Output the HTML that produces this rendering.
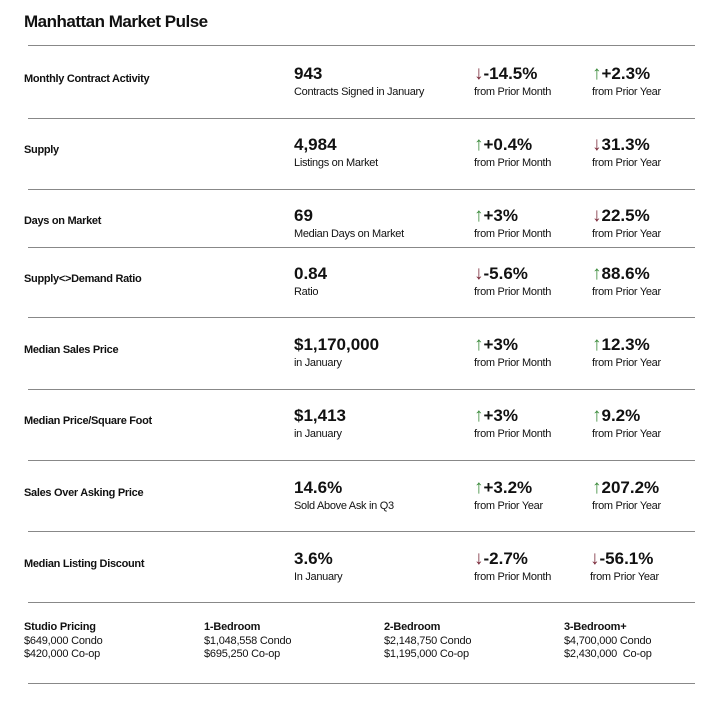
<!DOCTYPE html>
<html><head><meta charset="utf-8"><style>
body{margin:0;width:719px;height:714px;background:#fff;font-family:"Liberation Sans",sans-serif;color:#111;position:relative;overflow:hidden}
.a{position:absolute;white-space:nowrap}
.t{left:24px;top:12px;font-size:17px;font-weight:bold;letter-spacing:-0.5px}
.ln{position:absolute;left:28px;width:667px;height:1px;background:#888}
.lb{font-size:11px;font-weight:bold;letter-spacing:-0.3px}
.v{font-size:17px;font-weight:bold;line-height:20px}
.s{font-size:11px;letter-spacing:-0.3px}
.up{color:#3a8a3a;font-weight:normal;font-size:19px}
.dn{color:#7a2a3a;font-weight:normal;font-size:19px}
.b{font-size:11px;line-height:13.5px;letter-spacing:-0.2px}
</style></head><body>
<div class="a t">Manhattan Market Pulse</div>
<div id="rows"></div>
<div class="ln" style="top:602px"></div>
<div class="ln" style="top:683px"></div>
<div class="a b" style="left:24px;top:621px"><b>Studio Pricing</b><br>$649,000 Condo<br>$420,000 Co-op</div>
<div class="a b" style="left:204px;top:621px"><b>1-Bedroom</b><br>$1,048,558 Condo<br>$695,250 Co-op</div>
<div class="a b" style="left:384px;top:621px"><b>2-Bedroom</b><br>$2,148,750 Condo<br>$1,195,000 Co-op</div>
<div class="a b" style="left:564px;top:621px"><b>3-Bedroom+</b><br>$4,700,000 Condo<br>$2,430,000&nbsp; Co-op</div>
<script>
const labels=["Monthly Contract Activity","Supply","Days on Market","Supply<>Demand Ratio","Median Sales Price","Median Price/Square Foot","Sales Over Asking Price","Median Listing Discount"];
const values=["943","4,984","69","0.84","$1,170,000","$1,413","14.6%","3.6%"];
const subs=["Contracts Signed in January","Listings on Market","Median Days on Market","Ratio","in January","in January","Sold Above Ask in Q3","In January"];
const ch1=["-14.5%","+0.4%","+3%","-5.6%","+3%","+3%","+3.2%","-2.7%"];
const dir1=["d","u","u","d","u","u","u","d"];
const sub1=["from Prior Month","from Prior Month","from Prior Month","from Prior Month","from Prior Month","from Prior Month","from Prior Year","from Prior Month"];
const ch2=["+2.3%","31.3%","22.5%","88.6%","12.3%","9.2%","207.2%","-56.1%"];
const dir2=["u","d","d","u","u","u","u","d"];
const lines=[45,118,189,247,317,389,460,531];
const mids=[78,149,220,278,349,420,492,563];
const R=document.getElementById('rows');
function add(cls,x,y,html,name){const d=document.createElement('div');d.className='a '+cls;d.style.left=x+'px';d.style.top=y+'px';d.innerHTML=html;


R.appendChild(d);}
const arr=k=>k=='u'?'<span class="up">↑</span>':'<span class="dn">↓</span>';
labels.forEach((l,i)=>{
 const ln=document.createElement('div');ln.className='ln';ln.style.top=lines[i]+'px';
 
 
 R.appendChild(ln);
 const m=mids[i];
 add('lb',24,m-5,l.replace('<','&lt;').replace('>','&gt;'),'row-label');
 add('v',294,m-14,values[i],'metric-value');
 add('s',294,m+8,subs[i],'metric-subtitle');
 add('v',474,m-14,arr(dir1[i])+ch1[i],'change-1');
 add('s',474,m+8,sub1[i],'change-1-label');
 add('v',i==7?590:592,m-14,arr(dir2[i])+ch2[i],'change-2');
 add('s',i==7?590:592,m+8,'from Prior Year','change-2-label');
});
</script>
</body></html>
